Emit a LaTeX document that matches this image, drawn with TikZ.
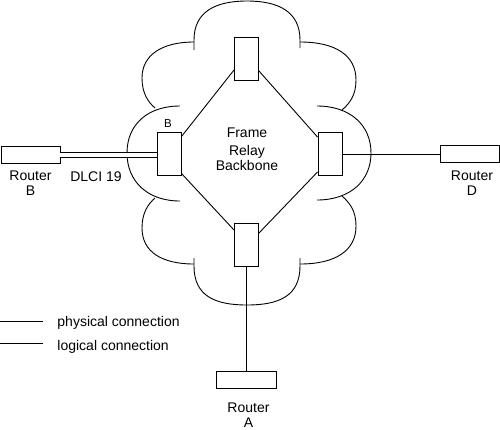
\documentclass[tikz,border=0pt]{standalone}
\usepackage{fontspec}
\setmainfont{Liberation Sans}
\begin{document}
\begin{tikzpicture}[x=1pt,y=-1pt,line width=0.9pt,
  iface/.style={draw,inner sep=0pt,minimum width=24pt,minimum height=43pt},
  router/.style={draw,inner sep=0pt,minimum width=59pt,minimum height=17pt},
  lbl/.style={font=\fontsize{14}{15}\selectfont,align=center,inner sep=0pt},
  small/.style={font=\fontsize{11.5}{13}\selectfont,inner sep=0pt},
  link/.style={line width=0.9pt},
  dlci/.style={double,double distance=3.6pt,line width=0.9pt}]
\useasboundingbox (0,0) rectangle (500,429);

% cloud outline
\draw (194,50) -- (194,40) .. controls (194,12) and (215,1) .. (247,1)
      .. controls (279,1) and (300,12) .. (300,40) -- (300,48);
\draw (300,42) .. controls (335,42) and (356,55) .. (356,80)
      .. controls (356,95) and (350,103) .. (342,110);
\draw (317,106) .. controls (350,106) and (371,125) .. (371,153)
      .. controls (371,181) and (350,200) .. (317,200);
\draw (342,196) .. controls (350,203) and (356,211) .. (356,226)
      .. controls (356,251) and (335,264) .. (300,264);
\draw (300,258) -- (300,266) .. controls (300,296) and (279,305) .. (247,305)
      .. controls (215,305) and (194,296) .. (194,266) -- (194,258);
\draw (155,198) .. controls (148,204) and (142,213) .. (142,228)
      .. controls (142,252) and (162,264) .. (194,264);
\draw (180,106) .. controls (147,106) and (127,125) .. (127,153)
      .. controls (127,181) and (147,201) .. (180,201);
\draw (194,42) .. controls (162,42) and (142,55) .. (142,78)
      .. controls (142,93) and (148,102) .. (155,108);

% interfaces
\node[iface] (left)   at (169,153.5) {};
\node[iface] (top)    at (246.5,59) {};
\node[iface] (right)  at (330,154) {};
\node[iface] (bottom) at (246.5,245) {};

% routers
\node[router] (rb) at (30.5,155) {};
\node[router] (rd) at (469.5,154) {};
\node[router, minimum width=60pt] (ra) at (246,380) {};

% backbone links
\draw[link] ([yshift=11pt]top.south west) -- ([yshift=-5pt]left.north east);
\draw[link] ([yshift=10pt]top.south east) -- ([yshift=-5pt]right.north west);
\draw[link] ([yshift=2pt]left.south east) -- ([yshift=-7pt]bottom.north west);
\draw[link] ([yshift=4pt]right.south west) -- ([yshift=-10pt]bottom.north east);

% access links
\draw[dlci] (rb.east) -- (rb.east -| left.west);
\draw[link] (right.east) -- (right.east -| rd.west);
\draw[link] (bottom.south) -- (bottom.south |- ra.north);

% labels
\node[small, anchor=base] (blbl) at (168,127) {B};
\node[lbl] (frl) at (247,149) {Frame\\[2.5pt]Relay\\Backbone};
\node[lbl] (rbl) at (30.5,183) {Router\\B};
\node[lbl] (rdl) at (472,183) {Router\\D};
\node[lbl] (ral) at (248.5,415) {Router\\A};
\node[lbl, anchor=base] (dl) at (96,181) {DLCI 19};

% legend
\coordinate (p1) at (0,321);
\coordinate (p2) at (43,321);
\coordinate (l1) at (0,343);
\coordinate (l2) at (43,343);
\draw[link] (p1) -- (p2);
\draw[link] (l1) -- (l2);
\node[lbl, anchor=base west] (pl) at (57,326) {physical connection};
\node[lbl, anchor=base west] (ll) at (57,350) {logical connection};
\end{tikzpicture}
\end{document}
